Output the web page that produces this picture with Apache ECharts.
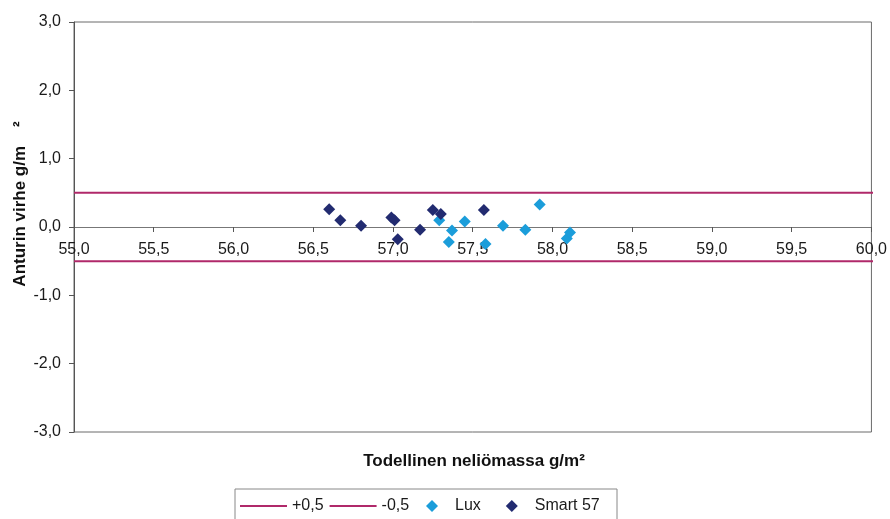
<!DOCTYPE html>
<html>
<head>
<meta charset="utf-8">
<script src="https://cdn.jsdelivr.net/npm/echarts@6/dist/echarts.min.js"></script>
<style>html,body{margin:0;padding:0;background:#fff}#c{width:890px;height:519px}</style>
</head>
<body>
<div id="c"></div>
<script>
const xTicks = [55.0, 55.5, 56.0, 56.5, 57.0, 57.5, 58.0, 58.5, 59.0, 59.5, 60.0];
const yTicks = [-3, -2, -1, 0, 1, 2, 3];
const limitX = [55.0, 60.05];
const plusY = [0.5, 0.5];
const minusY = [-0.5, -0.5];
const luxX = [57.29, 57.35, 57.37, 57.45, 57.58, 57.69, 57.83, 57.92, 58.09, 58.11];
const luxY = [0.10, -0.22, -0.05, 0.08, -0.25, 0.02, -0.04, 0.33, -0.17, -0.08];
const smartX = [56.60, 56.67, 56.80, 56.99, 57.01, 57.03, 57.17, 57.25, 57.30, 57.57];
const smartY = [0.26, 0.10, 0.02, 0.14, 0.10, -0.18, -0.04, 0.25, 0.19, 0.25];

const pairs = (xs, ys) => xs.map((x, i) => [x, ys[i]]);
const fmt = v => v.toFixed(1).replace('.', ',');
const FONT = 'Liberation Sans, Arial, sans-serif';
const PINK = '#b0296a', LUX = '#1b9dda', SMART = '#222b70';

const GRID_TOP = 22, GRID_H = 410;
const yMin = yTicks[0], yMax = yTicks[yTicks.length - 1];
// distance (px) from the grid bottom up to the y = 0 line, so the x axis sits on zero
const zeroOffset = -GRID_H * (0 - yMin) / (yMax - yMin);

const chart = echarts.init(document.getElementById('c'), null, {renderer: 'canvas'});
chart.setOption({
  backgroundColor: '#fff',
  animation: false,
  textStyle: {fontFamily: FONT},
  grid: {left: 74, right: 18, top: GRID_TOP, height: GRID_H, show: true, borderColor: '#6a6a6a', borderWidth: 1, backgroundColor: '#fff'},
  xAxis: {
    type: 'value', min: xTicks[0], max: xTicks[xTicks.length - 1], interval: 0.5,
    position: 'bottom', offset: zeroOffset,
    axisLine: {onZero: false, lineStyle: {color: '#777', width: 1}},
    axisTick: {show: true, length: 5, lineStyle: {color: '#555'}},
    axisLabel: {formatter: fmt, color: '#1a1a1a', fontSize: 16, margin: 15, hideOverlap: false, fontFamily: FONT},
    splitLine: {show: false}
  },
  yAxis: {
    type: 'value', min: yMin, max: yMax, interval: 1,
    axisLine: {show: true, lineStyle: {color: '#555', width: 1}},
    axisTick: {show: true, length: 5, lineStyle: {color: '#555'}},
    axisLabel: {formatter: fmt, color: '#1a1a1a', fontSize: 16, margin: 13, fontFamily: FONT},
    splitLine: {show: false}
  },
  legend: [{
    data: [{name: '+0,5', icon: 'rect'}, {name: '-0,5', icon: 'rect'}],
    left: 235, top: 493, itemWidth: 47, itemHeight: 2, itemGap: 6,
    textStyle: {fontSize: 16, color: '#1a1a1a', fontFamily: FONT}
  }, {
    data: ['Lux', 'Smart 57'],
    left: 421, top: 493, itemWidth: 12, itemHeight: 12, itemGap: 25, symbolKeepAspect: true,
    textStyle: {fontSize: 16, color: '#1a1a1a', fontFamily: FONT, padding: [0, 0, 0, 12]}
  }],
  graphic: [
    {type: 'rect', shape: {x: 235, y: 489, width: 382, height: 40}, style: {fill: 'none', stroke: '#888', lineWidth: 1}, z: -1},
    {type: 'text', x: 474, y: 461, style: {text: 'Todellinen neliömassa g/m²', font: 'bold 17px ' + FONT, fill: '#111', align: 'center', verticalAlign: 'middle'}},
    {type: 'text', x: 20, y: 204, rotation: Math.PI / 2, style: {text: 'Anturin virhe g/m    ²', font: 'bold 17px ' + FONT, fill: '#111', align: 'center', verticalAlign: 'middle'}}
  ],
  series: [
    {name: '+0,5', type: 'line', data: pairs(limitX, plusY), symbol: 'none', clip: false, lineStyle: {color: PINK, width: 2}, itemStyle: {color: PINK}},
    {name: '-0,5', type: 'line', data: pairs(limitX, minusY), symbol: 'none', clip: false, lineStyle: {color: PINK, width: 2}, itemStyle: {color: PINK}},
    {name: 'Lux', type: 'scatter', data: pairs(luxX, luxY), symbol: 'diamond', symbolSize: 12, itemStyle: {color: LUX, opacity: 1}},
    {name: 'Smart 57', type: 'scatter', data: pairs(smartX, smartY), symbol: 'diamond', symbolSize: 12, itemStyle: {color: SMART, opacity: 1}}
  ]
});
</script>
</body>
</html>
